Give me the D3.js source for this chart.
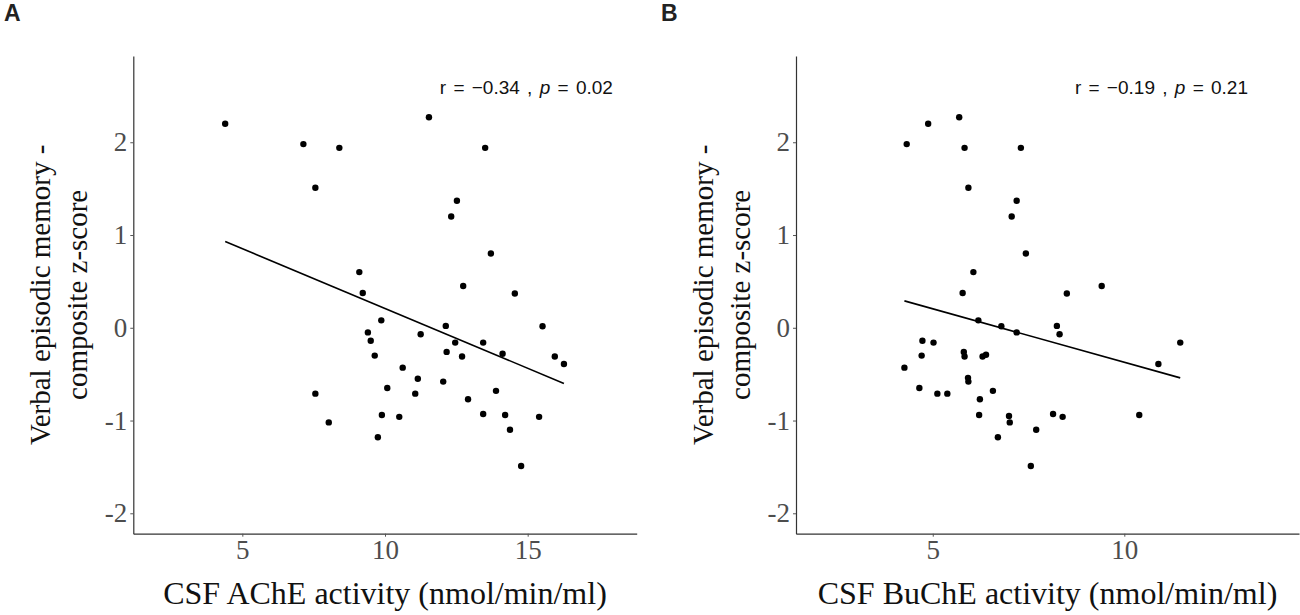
<!DOCTYPE html>
<html>
<head>
<meta charset="utf-8">
<script src="https://cdn.jsdelivr.net/npm/d3@7"></script>
<style>
  html, body { margin: 0; padding: 0; background: #fff; }
  svg { display: block; }
</style>
</head>
<body>
<svg id="chart" width="1300" height="615"></svg>
<script>
// Panel A: CSF AChE activity vs memory z-score
const acheX = [4.40, 7.14, 8.40, 7.56, 11.54, 13.51, 12.52, 12.32, 13.71, 9.10, 9.22,
  12.74, 14.55, 9.87, 12.13, 15.52, 9.40, 9.50, 11.25, 12.46, 13.44, 12.16, 14.12,
  12.70, 9.64, 15.95, 16.27, 10.62, 11.15, 12.04, 7.56, 10.08, 11.06, 13.89, 12.91,
  8.03, 9.89, 10.50, 13.44, 14.21, 15.40, 14.38, 9.75, 14.77];
const acheY = [2.20, 1.98, 1.94, 1.51, 2.27, 1.94, 1.37, 1.20, 0.80, 0.60, 0.375,
  0.45, 0.37, 0.08, 0.02, 0.016, -0.05, -0.14, -0.07, -0.16, -0.16, -0.26, -0.28,
  -0.31, -0.30, -0.31, -0.39, -0.43, -0.55, -0.58, -0.71, -0.65, -0.71, -0.68, -0.77,
  -1.02, -0.94, -0.96, -0.93, -0.94, -0.96, -1.10, -1.18, -1.49];
const acheFit = [[4.40, 0.93], [16.27, -0.60]];

// Panel B: CSF BuChE activity vs memory z-score
const bucheX = [4.32, 4.88, 5.69, 5.83, 7.30, 5.93, 7.19, 7.06, 7.43, 6.06, 5.78,
  8.50, 9.41, 6.19, 6.79, 7.19, 8.24, 8.31, 4.73, 5.02, 4.71, 4.26, 5.81, 5.83,
  6.30, 6.39, 5.92, 5.93, 4.65, 5.12, 5.38, 6.57, 6.23, 6.21, 6.99, 7.01, 8.14,
  8.39, 7.70, 6.70, 7.56, 11.46, 10.89, 10.39];
const bucheY = [1.98, 2.20, 2.27, 1.94, 1.94, 1.51, 1.37, 1.20, 0.80, 0.60, 0.375,
  0.37, 0.45, 0.08, 0.016, -0.05, 0.02, -0.07, -0.14, -0.16, -0.30, -0.43, -0.26,
  -0.31, -0.31, -0.29, -0.54, -0.58, -0.65, -0.71, -0.71, -0.68, -0.77, -0.94, -0.95,
  -1.02, -0.93, -0.96, -1.10, -1.18, -1.49, -0.16, -0.39, -0.94];
const bucheFit = [[4.26, 0.29], [11.46, -0.54]];

const yTicks = [-2, -1, 0, 1, 2];
const acheTicks = [5, 10, 15];
const bucheTicks = [5, 10];
const yTitle = ["Verbal episodic memory -", "composite z-score"];

const panels = [
  { tag: "A", tagX: 4, left: 133.3, right: 636.7, xDomain: [1.18, 18.82],
    xs: acheX, ys: acheY, fit: acheFit, ticks: acheTicks,
    xTitle: "CSF AChE activity (nmol/min/ml)",
    r: "\u22120.34", p: "0.02", labelAt: [11.92, 2.60] },
  { tag: "B", tagX: 661, left: 796, right: 1299, xDomain: [1.43, 14.56],
    xs: bucheX, ys: bucheY, fit: bucheFit, ticks: bucheTicks,
    xTitle: "CSF BuChE activity (nmol/min/ml)",
    r: "\u22120.19", p: "0.21", labelAt: [8.71, 2.60] }
];

const plotTop = 56, plotBottom = 533.7;
const serif = "'Liberation Serif', 'Times New Roman', serif";
const sans = "'Liberation Sans', Arial, sans-serif";
const svg = d3.select("#chart");

panels.forEach((pn) => {
  const x = d3.scaleLinear().domain(pn.xDomain).range([pn.left, pn.right]);
  const y = d3.scaleLinear().domain([-2.22, 2.93]).range([plotBottom, plotTop]);

  svg.append("text")
    .attr("x", pn.tagX).attr("y", 21)
    .attr("font-family", sans).attr("font-weight", "bold")
    .attr("font-size", 23).attr("fill", "#222")
    .text(pn.tag);

  const xAxis = svg.append("g")
    .attr("transform", `translate(0,${plotBottom})`)
    .call(d3.axisBottom(x).tickValues(pn.ticks).tickSize(3).tickPadding(3)
      .tickSizeOuter(0).tickFormat(d3.format("d")));
  const yAxis = svg.append("g")
    .attr("transform", `translate(${pn.left},0)`)
    .call(d3.axisLeft(y).tickValues(yTicks).tickSize(3).tickPadding(3)
      .tickSizeOuter(0).tickFormat((d) => String(d)));

  [xAxis, yAxis].forEach((ax) => {
    ax.select(".domain").attr("stroke", "#333").attr("stroke-width", 1.2);
    ax.selectAll(".tick line").attr("stroke", "#555");
    ax.selectAll(".tick text")
      .attr("font-family", serif).attr("font-size", 27).attr("fill", "#4d4d4d");
  });

  svg.append("line")
    .attr("x1", x(pn.fit[0][0])).attr("y1", y(pn.fit[0][1]))
    .attr("x2", x(pn.fit[1][0])).attr("y2", y(pn.fit[1][1]))
    .attr("stroke", "#000").attr("stroke-width", 1.6);

  svg.append("g")
    .selectAll("circle")
    .data(pn.xs.map((v, i) => [v, pn.ys[i]]))
    .join("circle")
    .attr("cx", (d) => x(d[0]))
    .attr("cy", (d) => y(d[1]))
    .attr("r", 3.2)
    .attr("fill", "#000");

  const lab = svg.append("text")
    .attr("x", x(pn.labelAt[0])).attr("y", y(pn.labelAt[1]))
    .attr("dominant-baseline", "central")
    .attr("word-spacing", 2)
    .attr("font-family", sans).attr("font-size", 19).attr("fill", "#111");
  lab.append("tspan").text(`r = ${pn.r} , `).attr("xml:space", "preserve");
  lab.append("tspan").attr("font-style", "italic").text("p");
  lab.append("tspan").text(` = ${pn.p}`);

  svg.append("text")
    .attr("x", (pn.left + pn.right) / 2).attr("y", 593)
    .attr("text-anchor", "middle").attr("dominant-baseline", "central")
    .attr("font-family", serif).attr("font-size", 32).attr("fill", "#111")
    .text(pn.xTitle);

  const yMid = (plotTop + plotBottom) / 2;
  [93, 56].forEach((off, i) => {
    svg.append("text")
      .attr("transform", `translate(${pn.left - off},${yMid}) rotate(-90)`)
      .attr("text-anchor", "middle").attr("dominant-baseline", "central")
      .attr("font-family", serif).attr("font-size", 29).attr("fill", "#111")
      .text(yTitle[i]);
  });
});
</script>
</body>
</html>
